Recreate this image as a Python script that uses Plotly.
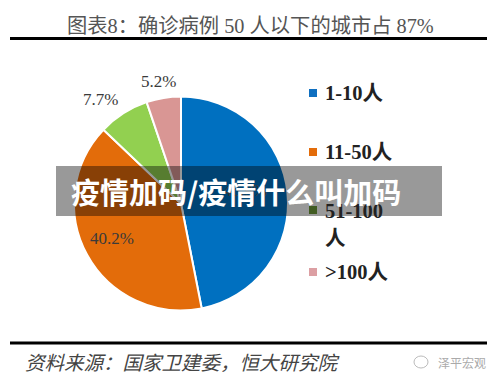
import plotly.graph_objects as go

categories = ["1-10人", "11-50人", "51-100<br>人", ">100人"]
values = [46.9, 40.2, 7.7, 5.2]
colors = ["#0070C0", "#E36C0A", "#92D050", "#D99694"]
legend_colors = ["#0F6FC0", "#E36C0A", "#6F9A3A", "#DC9FA3"]
title = "图表8：确诊病例 50 人以下的城市占 87%"
source = "资料来源：国家卫建委，恒大研究院"
watermark = "泽平宏观"
band_text = "疫情加码/疫情什么叫加码"

W, H = 500, 383
serif = "Liberation Serif, Noto Sans CJK SC"
fig = go.Figure(go.Pie(
    values=values, labels=categories, sort=False, direction="clockwise", rotation=0,
    marker=dict(colors=colors, line=dict(color="white", width=2)),
    textinfo="none", hoverinfo="label+percent", showlegend=False,
    domain=dict(x=[74/W, 288/W], y=[1-311/H, 1-96/H]),
))

def px(x, y):
    return dict(x=x/W, y=1-y/H, xref="paper", yref="paper")

ann = []
def text(x, y, t, size, color="#333", anchor="center", family=serif, **kw):
    ann.append(dict(text=t, showarrow=False, xanchor=anchor, yanchor="middle",
                    font=dict(size=size, color=color, family=family), **px(x, y), **kw))

text(250, 26, title, 20.3, "#555555")
label_pos = [(245, 190), (112, 238), (100, 100), (158, 82)]
for (x, y), v in zip(label_pos, values):
    text(x, y, f"{v}%", 17, "#3a3a3a")

shapes = []
legend_y = [93, 152, 210, 272]
for yy, c in zip(legend_y, legend_colors):
    shapes.append(dict(type="rect", xref="paper", yref="paper", x0=309/W, x1=317/W,
                       y0=1-(yy+4)/H, y1=1-(yy-4)/H, fillcolor=c, line_width=0))
for yy, cat in zip([93, 152, 224, 272], categories):
    text(323, yy, f"<b>{cat}</b>", 20.5, "#222222", anchor="left", align="left")

for y, a, b in [(38.5, 10, 487), (343, 10, 487)]:
    shapes.append(dict(type="line", xref="paper", yref="paper", x0=a/W, x1=b/W,
                       y0=1-y/H, y1=1-y/H, line=dict(color="black", width=3)))

text(23, 361, f"<i>{source}</i>", 19.5, "#444444", anchor="left", family="Noto Sans CJK SC")
text(436, 362, watermark, 12, "#aaaaaa", anchor="left", family="Noto Sans CJK SC")

# watermark icon
shapes.append(dict(type="circle", xref="paper", yref="paper", x0=414/W, x1=428/W,
                   y0=1-368/H, y1=1-356/H, line=dict(color="#bbbbbb", width=1)))

# translucent band
shapes.append(dict(type="rect", xref="paper", yref="paper", x0=56/W, x1=442/W,
                   y0=1-216/H, y1=1-166/H, fillcolor="rgba(0,0,0,0.4)", line_width=0, layer="above"))
text(236, 191, f"<b>{band_text}</b>", 29, "white", family="Noto Sans CJK SC")

fig.update_layout(width=W, height=H, margin=dict(l=0, r=0, t=0, b=0),
                  paper_bgcolor="white", plot_bgcolor="white",
                  annotations=ann, shapes=shapes)
fig.write_html("out.html", post_script="document.body.style.margin='0';",
               config=dict(displayModeBar=False))
